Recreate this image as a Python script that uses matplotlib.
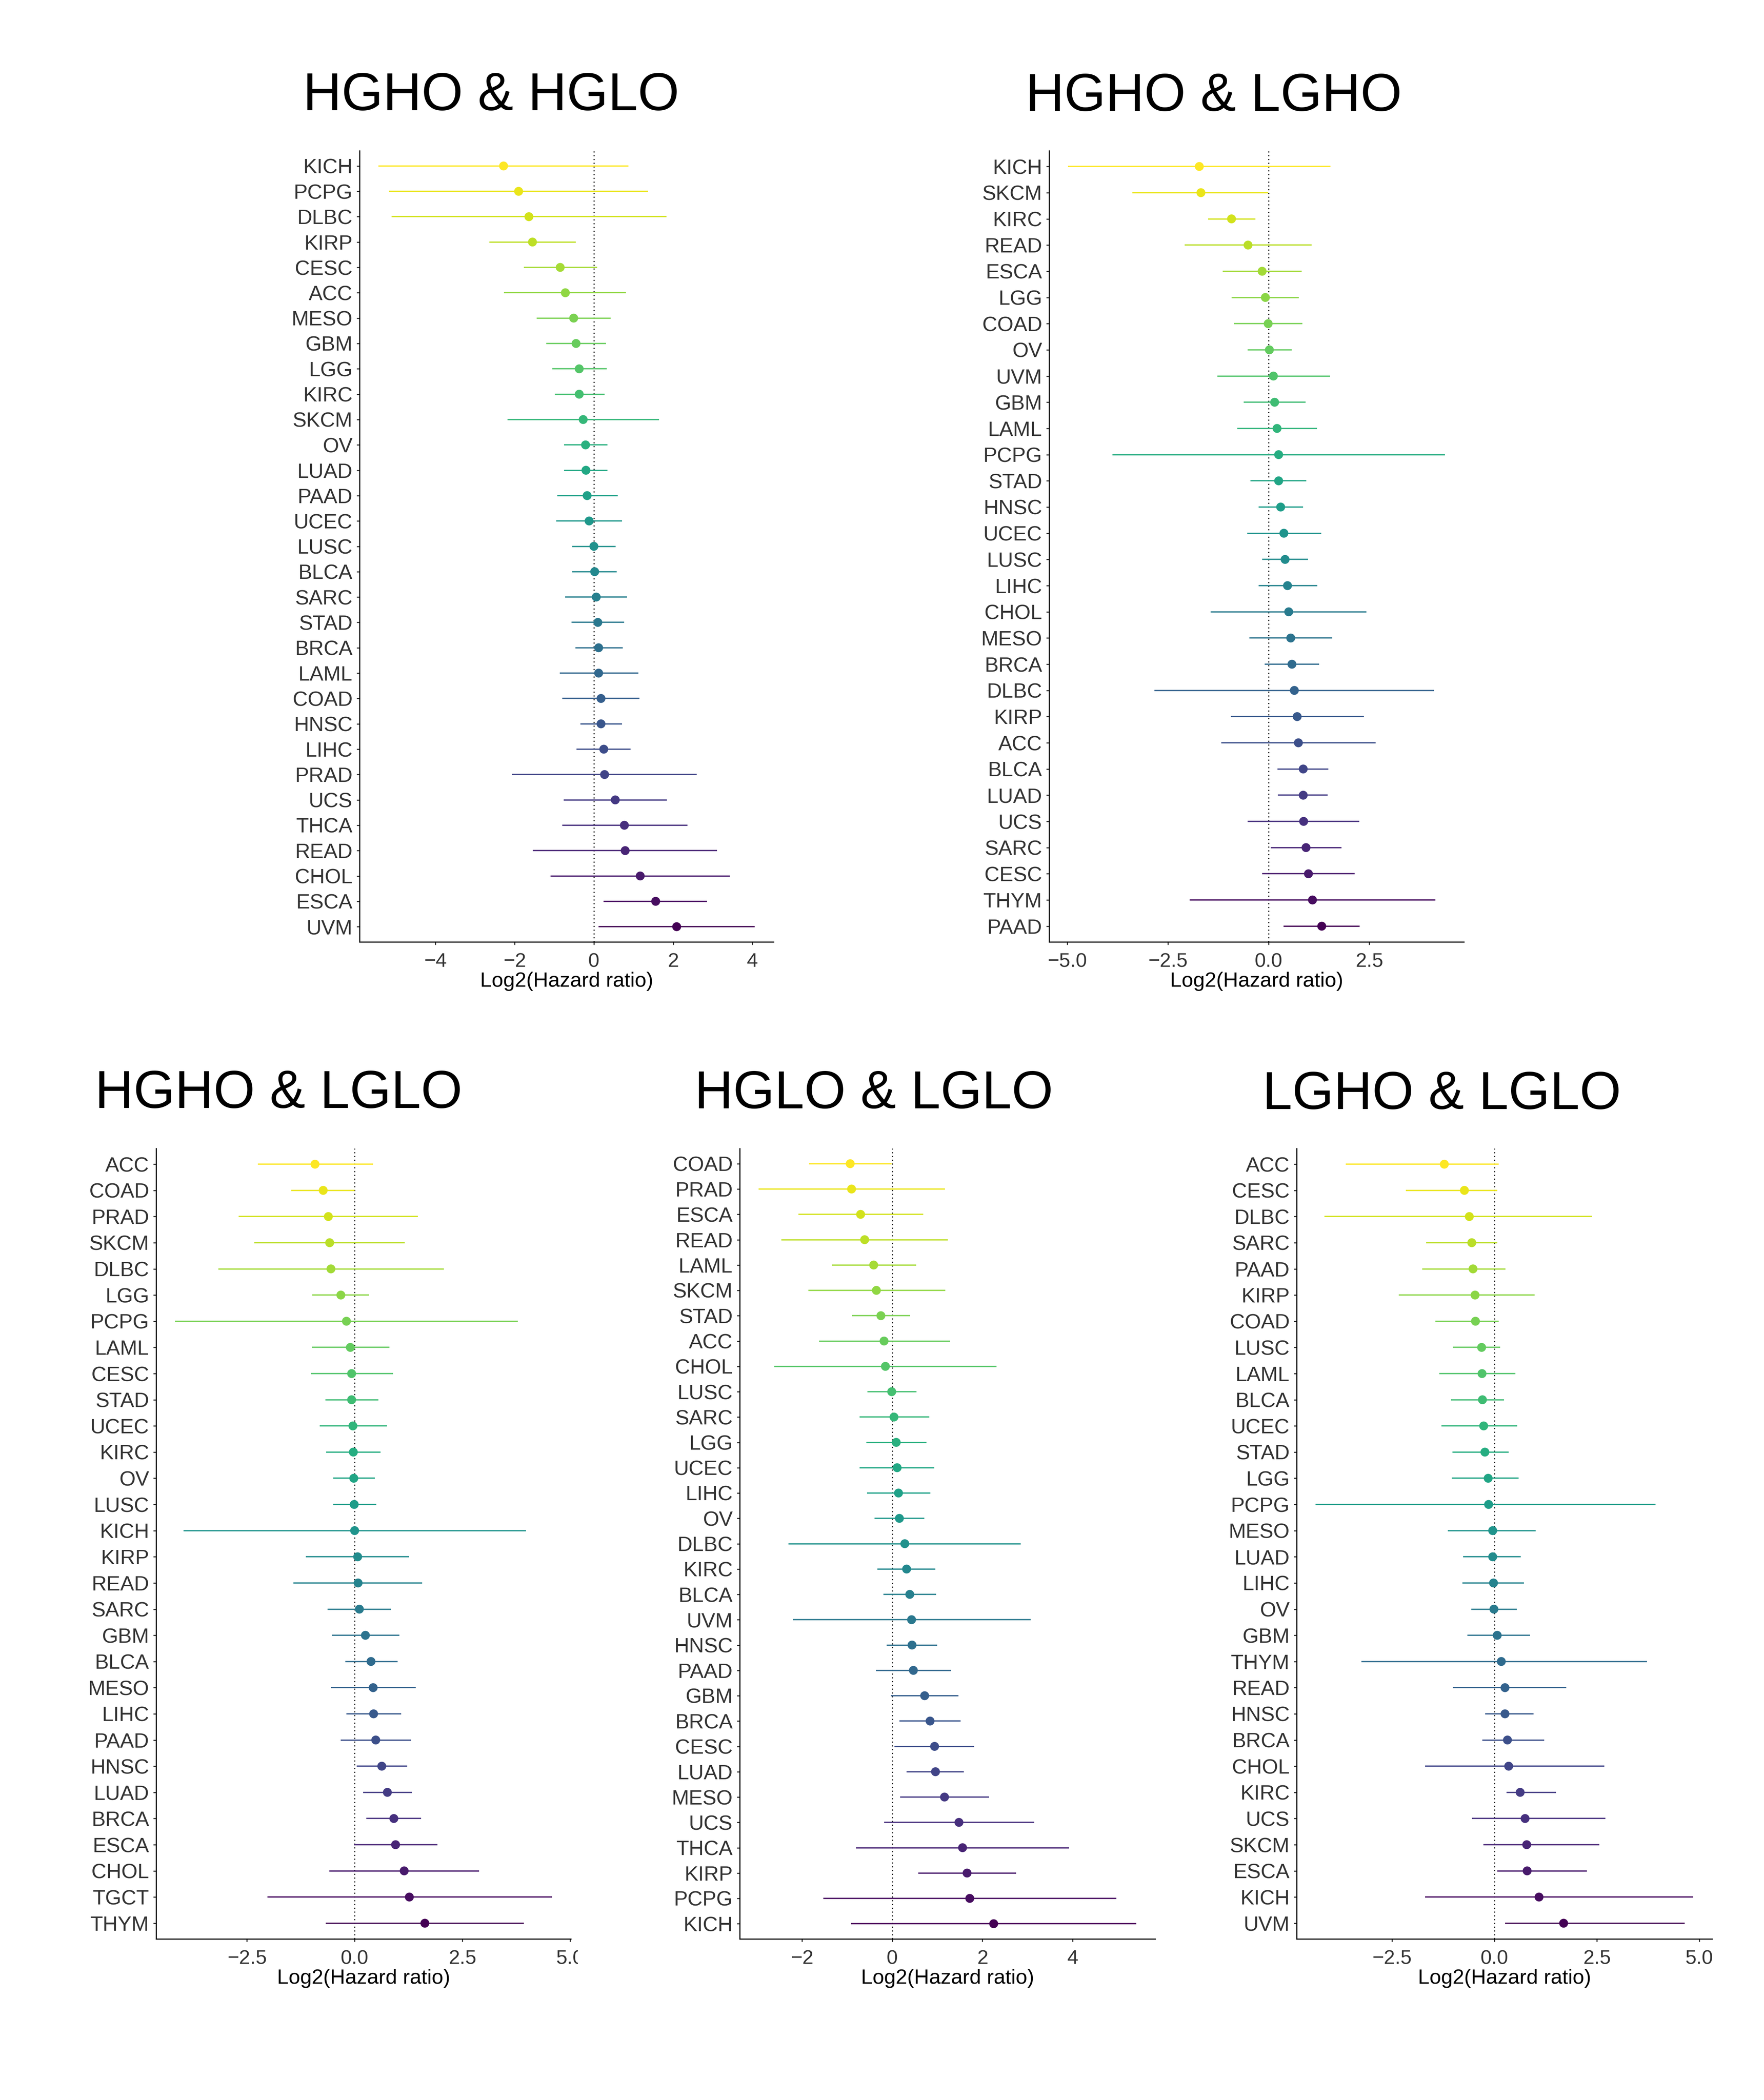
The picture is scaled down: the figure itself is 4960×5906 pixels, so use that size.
#!/usr/bin/env python

import matplotlib
matplotlib.use("Agg")
import matplotlib.pyplot as plt
from matplotlib.transforms import Bbox, TransformedBbox
import numpy as np

W, H = 4960, 5906
DPI = 300

plt.rcParams["font.family"] = ["Liberation Sans", "DejaVu Sans"]

# HGHO & HGLO
p1_names = ["KICH", "PCPG", "DLBC", "KIRP", "CESC", "ACC", "MESO", "GBM", "LGG", "KIRC", "SKCM",
            "OV", "LUAD", "PAAD", "UCEC", "LUSC", "BLCA", "SARC", "STAD", "BRCA", "LAML", "COAD",
            "HNSC", "LIHC", "PRAD", "UCS", "THCA", "READ", "CHOL", "ESCA", "UVM"]
p1_est = [-2.28, -1.90, -1.64, -1.55, -0.85, -0.72, -0.51, -0.45, -0.37, -0.37, -0.27, -0.21, -0.20,
          -0.17, -0.12, 0.00, 0.02, 0.06, 0.10, 0.12, 0.12, 0.18, 0.18, 0.25, 0.27, 0.54, 0.77, 0.79,
          1.17, 1.56, 2.09]
p1_lo = [-5.44, -5.17, -5.11, -2.64, -1.77, -2.27, -1.44, -1.20, -1.05, -0.99, -2.18, -0.75, -0.75,
         -0.92, -0.95, -0.55, -0.55, -0.73, -0.56, -0.47, -0.86, -0.80, -0.34, -0.44, -2.06, -0.76,
         -0.80, -1.54, -1.09, 0.24, 0.12]
p1_hi = [0.87, 1.37, 1.83, -0.46, 0.08, 0.81, 0.42, 0.31, 0.32, 0.27, 1.64, 0.34, 0.34, 0.60, 0.71,
         0.55, 0.58, 0.84, 0.76, 0.73, 1.12, 1.15, 0.71, 0.93, 2.60, 1.84, 2.36, 3.11, 3.43, 2.86, 4.06]
p1_ticks = [-4, -2, 0, 2, 4]
p1_ticklabels = ["\u22124", "\u22122", "0", "2", "4"]

# HGHO & LGHO
p2_names = ["KICH", "SKCM", "KIRC", "READ", "ESCA", "LGG", "COAD", "OV", "UVM", "GBM", "LAML",
            "PCPG", "STAD", "HNSC", "UCEC", "LUSC", "LIHC", "CHOL", "MESO", "BRCA", "DLBC", "KIRP",
            "ACC", "BLCA", "LUAD", "UCS", "SARC", "CESC", "THYM", "PAAD"]
p2_est = [-1.72, -1.68, -0.92, -0.51, -0.16, -0.08, -0.01, 0.02, 0.12, 0.15, 0.21, 0.25, 0.25, 0.30,
          0.38, 0.41, 0.47, 0.50, 0.55, 0.58, 0.64, 0.71, 0.74, 0.86, 0.86, 0.87, 0.93, 0.99, 1.09, 1.32]
p2_lo = [-4.98, -3.38, -1.50, -2.08, -1.14, -0.92, -0.86, -0.52, -1.27, -0.62, -0.78, -3.88, -0.45,
         -0.25, -0.53, -0.16, -0.25, -1.44, -0.48, -0.10, -2.83, -0.94, -1.17, 0.22, 0.23, -0.52, 0.05,
         -0.16, -1.96, 0.37]
p2_hi = [1.54, -0.01, -0.33, 1.07, 0.82, 0.75, 0.84, 0.57, 1.53, 0.92, 1.20, 4.38, 0.94, 0.86, 1.31,
         0.98, 1.21, 2.43, 1.58, 1.25, 4.11, 2.37, 2.66, 1.48, 1.47, 2.25, 1.81, 2.14, 4.14, 2.26]
p2_ticks = [-5.0, -2.5, 0.0, 2.5]
p2_ticklabels = ["\u22125.0", "\u22122.5", "0.0", "2.5"]

# HGHO & LGLO
p3_names = ["ACC", "COAD", "PRAD", "SKCM", "DLBC", "LGG", "PCPG", "LAML", "CESC", "STAD", "UCEC",
            "KIRC", "OV", "LUSC", "KICH", "KIRP", "READ", "SARC", "GBM", "BLCA", "MESO", "LIHC",
            "PAAD", "HNSC", "LUAD", "BRCA", "ESCA", "CHOL", "TGCT", "THYM"]
p3_est = [-0.92, -0.73, -0.61, -0.58, -0.55, -0.32, -0.19, -0.10, -0.07, -0.07, -0.04, -0.03, -0.02,
          -0.01, 0.00, 0.07, 0.08, 0.11, 0.25, 0.38, 0.43, 0.44, 0.49, 0.63, 0.76, 0.91, 0.95, 1.15,
          1.27, 1.63]
p3_lo = [-2.25, -1.47, -2.69, -2.33, -3.16, -0.98, -4.17, -0.99, -1.02, -0.68, -0.81, -0.66, -0.50,
         -0.50, -3.97, -1.13, -1.42, -0.63, -0.53, -0.22, -0.55, -0.19, -0.32, 0.05, 0.20, 0.27, -0.02,
         -0.59, -2.02, -0.67]
p3_hi = [0.43, 0.00, 1.47, 1.16, 2.07, 0.34, 3.79, 0.81, 0.89, 0.55, 0.75, 0.60, 0.47, 0.50, 3.98,
         1.26, 1.57, 0.84, 1.04, 1.00, 1.42, 1.08, 1.31, 1.22, 1.33, 1.54, 1.92, 2.89, 4.58, 3.93]
p3_ticks = [-2.5, 0.0, 2.5, 5.0]
p3_ticklabels = ["\u22122.5", "0.0", "2.5", "5.0"]

# HGLO & LGLO
p4_names = ["COAD", "PRAD", "ESCA", "READ", "LAML", "SKCM", "STAD", "ACC", "CHOL", "LUSC", "SARC",
            "LGG", "UCEC", "LIHC", "OV", "DLBC", "KIRC", "BLCA", "UVM", "HNSC", "PAAD", "GBM", "BRCA",
            "CESC", "LUAD", "MESO", "UCS", "THCA", "KIRP", "PCPG", "KICH"]
p4_est = [-0.93, -0.90, -0.70, -0.61, -0.41, -0.35, -0.25, -0.18, -0.15, -0.01, 0.04, 0.09, 0.11,
          0.14, 0.16, 0.28, 0.32, 0.39, 0.43, 0.44, 0.47, 0.72, 0.84, 0.94, 0.96, 1.16, 1.48, 1.56,
          1.66, 1.72, 2.25]
p4_lo = [-1.84, -2.96, -2.08, -2.46, -1.34, -1.86, -0.89, -1.62, -2.61, -0.55, -0.72, -0.57, -0.72,
         -0.56, -0.39, -2.30, -0.33, -0.19, -2.20, -0.12, -0.36, -0.03, 0.16, 0.05, 0.32, 0.18, -0.18,
         -0.80, 0.58, -1.53, -0.91]
p4_hi = [-0.01, 1.17, 0.69, 1.23, 0.53, 1.18, 0.40, 1.28, 2.31, 0.54, 0.82, 0.76, 0.93, 0.85, 0.71,
         2.85, 0.96, 0.97, 3.07, 1.00, 1.30, 1.47, 1.52, 1.82, 1.59, 2.15, 3.15, 3.92, 2.75, 4.97, 5.41]
p4_ticks = [-2, 0, 2, 4]
p4_ticklabels = ["\u22122", "0", "2", "4"]

# LGHO & LGLO
p5_names = ["ACC", "CESC", "DLBC", "SARC", "PAAD", "KIRP", "COAD", "LUSC", "LAML", "BLCA", "UCEC",
            "STAD", "LGG", "PCPG", "MESO", "LUAD", "LIHC", "OV", "GBM", "THYM", "READ", "HNSC", "BRCA",
            "CHOL", "KIRC", "UCS", "SKCM", "ESCA", "KICH", "UVM"]
p5_est = [-1.22, -0.73, -0.61, -0.55, -0.52, -0.47, -0.46, -0.31, -0.30, -0.29, -0.26, -0.23, -0.15,
          -0.14, -0.04, -0.04, -0.02, -0.01, 0.07, 0.17, 0.26, 0.26, 0.32, 0.35, 0.63, 0.75, 0.79, 0.80,
          1.09, 1.69]
p5_lo = [-3.62, -2.16, -4.14, -1.66, -1.76, -2.33, -1.44, -1.01, -1.34, -1.06, -1.29, -1.02, -1.04,
         -4.36, -1.13, -0.76, -0.78, -0.56, -0.66, -3.24, -1.01, -0.22, -0.29, -1.69, 0.30, -0.54,
         -0.27, 0.07, -1.69, 0.26]
p5_hi = [0.11, 0.07, 2.38, 0.07, 0.27, 0.98, 0.11, 0.14, 0.51, 0.24, 0.56, 0.35, 0.59, 3.93, 1.01,
         0.64, 0.72, 0.55, 0.87, 3.72, 1.75, 0.96, 1.22, 2.68, 1.50, 2.71, 2.56, 2.26, 4.85, 4.64]
p5_ticks = [-2.5, 0.0, 2.5, 5.0]
p5_ticklabels = ["\u22122.5", "0.0", "2.5", "5.0"]


def px_axes(fig, left, right, top, bottom):
  # pixel box -> figure fraction
  return fig.add_axes([left / W, 1 - bottom / H, (right - left) / W, (bottom - top) / H])


def draw_panel(fig, box, title, title_pos, names, est, lo, hi, ticks, ticklabels, clip_right=None):
  left, right, top, bottom = box
  ax = px_axes(fig, left, right, top, bottom)
  n = len(names)
  y = np.arange(n)[::-1]
  est = np.array(est)
  lo = np.array(lo)
  hi = np.array(hi)
  # top row yellow, bottom row dark purple
  colors = plt.cm.viridis(np.linspace(1, 0, n))

  ax.axvline(0, color="black", lw=0.75, ls=(0, (1, 2.4)), zorder=1)
  ax.hlines(y, lo, hi, colors=colors, lw=0.85, zorder=2)
  ax.scatter(est, y, c=colors, s=6.0 ** 2, linewidths=0, zorder=3)

  # ggplot style 5% expansion
  xmin = min(lo.min(), 0.0)
  xmax = max(hi.max(), 0.0)
  pad = 0.05 * (xmax - xmin)
  ax.set_xlim(xmin - pad, xmax + pad)
  ax.set_ylim(-0.6, n - 0.4)

  ax.set_yticks(y)
  ax.set_yticklabels(names)
  ax.set_xticks(ticks)
  ax.set_xticklabels(ticklabels)

  for s in ["top", "right"]:
    ax.spines[s].set_visible(False)
  for s in ["left", "bottom"]:
    ax.spines[s].set_linewidth(0.75)
    ax.spines[s].set_color("black")

  ax.tick_params(axis="both", direction="out", length=1.9, width=0.75, color="#333333")
  ax.tick_params(axis="y", labelsize=14, pad=2.9, labelcolor="#333333")
  ax.tick_params(axis="x", labelsize=13.5, pad=5.3, labelcolor="#333333")

  if clip_right is not None:
    clip = TransformedBbox(Bbox.from_extents(0, 0, clip_right / W, 1), fig.transFigure)
    for lab in ax.get_xticklabels():
      lab.set_clip_on(True)
      lab.set_clip_box(clip)

  fig.text((left + right) / 2 / W, 1 - (bottom + 126) / H, "Log2(Hazard ratio)",
           ha="center", va="baseline", fontsize=14, color="black")
  fig.text(title_pos[0] / W, 1 - title_pos[1] / H, title,
           ha="center", va="baseline", fontsize=36, color="black")
  return ax


def main():
  fig = plt.figure(figsize=(W / DPI, H / DPI), dpi=DPI)
  fig.patch.set_facecolor("white")

  draw_panel(fig, (1011, 2175, 424, 2649), "HGHO & HGLO", (1381, 310),
             p1_names, p1_est, p1_lo, p1_hi, p1_ticks, p1_ticklabels)
  draw_panel(fig, (2950, 4116, 424, 2649), "HGHO & LGHO", (3413, 312),
             p2_names, p2_est, p2_lo, p2_hi, p2_ticks, p2_ticklabels)
  draw_panel(fig, (439, 1605, 3230, 5453), "HGHO & LGLO", (783, 3116),
             p3_names, p3_est, p3_lo, p3_hi, p3_ticks, p3_ticklabels, clip_right=1625)
  draw_panel(fig, (2080, 3248, 3230, 5453), "HGLO & LGLO", (2457, 3117),
             p4_names, p4_est, p4_lo, p4_hi, p4_ticks, p4_ticklabels)
  draw_panel(fig, (3646, 4814, 3230, 5453), "LGHO & LGLO", (4054, 3119),
             p5_names, p5_est, p5_lo, p5_hi, p5_ticks, p5_ticklabels)

  fig.savefig("out.png", dpi=DPI, facecolor="white")


if __name__ == "__main__":
  main()
